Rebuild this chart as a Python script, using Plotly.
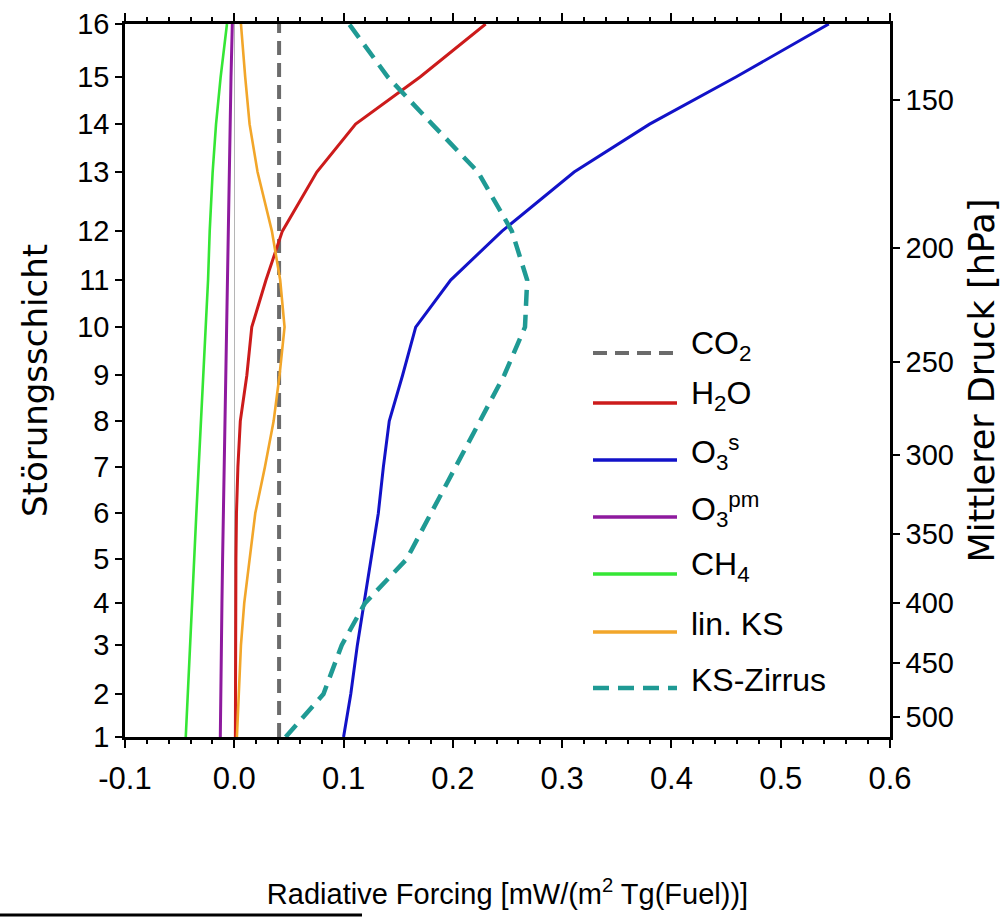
import math
import plotly.graph_objects as go

# ---------------- data ----------------
layers = list(range(1, 17))
pressure_hpa = [519.8, 478.0, 434.5, 400.3, 367.4, 335.9, 307.0, 280.6,
                256.6, 233.6, 213.1, 193.7, 172.6, 157.2, 143.4, 129.3]

co2 = [0.041, 0.041, 0.041, 0.041, 0.041, 0.041, 0.041, 0.041,
       0.041, 0.041, 0.041, 0.041, 0.041, 0.041, 0.041, 0.041]
h2o = [0.001, 0.001, 0.001, 0.0012, 0.0015, 0.002, 0.0033, 0.0055,
       0.0115, 0.016, 0.029, 0.044, 0.0755, 0.111, 0.170, 0.230]
o3s = [0.100, 0.1066, 0.1126, 0.1187, 0.1257, 0.1318, 0.1364, 0.1418,
       0.154, 0.166, 0.198, 0.245, 0.311, 0.380, 0.459, 0.544]
o3pm = [-0.0128, -0.0125, -0.0119, -0.0113, -0.0107, -0.0100, -0.0094, -0.0085,
        -0.0080, -0.0073, -0.0067, -0.0058, -0.0046, -0.0037, -0.0030, -0.0018]
ch4 = [-0.0444, -0.0426, -0.0408, -0.0390, -0.0368, -0.0347, -0.0326, -0.0304,
       -0.0286, -0.0265, -0.0240, -0.0225, -0.0198, -0.0167, -0.0125, -0.0067]
lin_ks = [0.0024, 0.0040, 0.0061, 0.0091, 0.0140, 0.0192, 0.0280, 0.0360,
          0.0414, 0.0460, 0.0420, 0.0344, 0.0213, 0.0140, 0.0100, 0.0061]
ks_zirrus = [0.047, 0.0816, 0.0983, 0.1196, 0.1577, 0.180, 0.2015, 0.224,
             0.247, 0.266, 0.268, 0.254, 0.223, 0.181, 0.1405, 0.105]

x_ticks = [-0.1, 0.0, 0.1, 0.2, 0.3, 0.4, 0.5, 0.6]
x_ticktext = ["-0.1", "0.0", "0.1", "0.2", "0.3", "0.4", "0.5", "0.6"]
p_ticks = [150, 200, 250, 300, 350, 400, 450, 500]

series = [
    ("CO<sub>2</sub>", co2, "#6b6b6b", 4, "14px,8px"),
    ("H<sub>2</sub>O", h2o, "#cc1b1b", 3, "solid"),
    ("O<sub>3</sub><sup>s</sup>", o3s, "#1212c8", 3, "solid"),
    ("O<sub>3</sub><sup>pm</sup>", o3pm, "#8e1a9e", 3, "solid"),
    ("CH<sub>4</sub>", ch4, "#35e635", 2.6, "solid"),
    ("lin. KS", lin_ks, "#f2a62a", 2.6, "solid"),
    ("KS-Zirrus", ks_zirrus, "#1f9a94", 4.5, "16px,9px"),
]

NARROW = "Liberation Sans, Arial, sans-serif"
WIDE = "DejaVu Sans, Liberation Sans, sans-serif"

fig = go.Figure()
for name, vals, color, width, dash in series:
    fig.add_trace(go.Scatter(x=vals, y=pressure_hpa, mode="lines", name=name,
                             line=dict(color=color, width=width, dash=dash),
                             showlegend=False))
# trace that activates the right-hand pressure axis
fig.add_trace(go.Scatter(x=[co2[0]], y=[pressure_hpa[0]], yaxis="y2", mode="markers",
                         marker=dict(opacity=0), showlegend=False, hoverinfo="skip"))

yr = [math.log10(pressure_hpa[0]), math.log10(pressure_hpa[-1])]

fig.update_layout(
    width=1002, height=920,
    margin=dict(l=125, r=112, t=24, b=183),
    paper_bgcolor="white", plot_bgcolor="white",
    font=dict(family=NARROW, color="black", size=29),
    xaxis=dict(
        range=[-0.1, 0.6], tickvals=x_ticks, ticktext=x_ticktext, automargin=False,
        ticks="outside", ticklen=8, tickwidth=2, tickcolor="black",
        minor=dict(dtick=0.02, ticks="outside", ticklen=4, tickwidth=1.5, tickcolor="black"),
        showline=True, linewidth=2.5, linecolor="black", mirror="ticks",
        showgrid=False, zeroline=True, zerolinecolor="#b5b5b5", zerolinewidth=1,
        tickfont=dict(family=NARROW, size=31), ticklabelstandoff=4,
        title=dict(text="Radiative Forcing [mW/(m<sup>2</sup> Tg(Fuel))]",
                   font=dict(family=NARROW, size=29), standoff=89),
    ),
    yaxis=dict(
        type="log", range=yr, tickvals=pressure_hpa, ticktext=[str(l) for l in layers],
        automargin=False,
        ticks="outside", ticklen=7, tickwidth=2, tickcolor="black",
        showline=True, linewidth=2.5, linecolor="black",
        showgrid=False, zeroline=False,
        tickfont=dict(family=NARROW, size=29),
        title=dict(text="Störungsschicht", font=dict(family=WIDE, size=34), standoff=20),
    ),
    yaxis2=dict(
        type="log", range=yr, overlaying="y", side="right", automargin=False,
        tickvals=p_ticks, ticktext=[str(p) for p in p_ticks],
        ticks="outside", ticklen=7, tickwidth=2, tickcolor="black",
        showline=True, linewidth=2.5, linecolor="black",
        showgrid=False, zeroline=False,
        tickfont=dict(family=NARROW, size=29),
        title=dict(text="Mittlerer Druck [hPa]", font=dict(family=WIDE, size=35), standoff=23),
    ),
)

# manual legend (paper coordinates)
plot_l, plot_r, plot_t, plot_b = 125, 890, 24, 737
def px(x):
    return (x - plot_l) / (plot_r - plot_l)
def py(y):
    return (plot_b - y) / (plot_b - plot_t)

legend_y = [353, 403, 460, 517, 574, 632, 688]
for (name, vals, color, width, dash), yy in zip(series, legend_y):
    fig.add_shape(type="line", xref="paper", yref="paper",
                  x0=px(593), x1=px(677), y0=py(yy), y1=py(yy),
                  line=dict(color=color, width=max(width, 3.5), dash=dash))
    fig.add_annotation(xref="paper", yref="paper", x=px(689), y=py(yy - 8),
                       xanchor="left", yanchor="middle", showarrow=False,
                       text=name, font=dict(family=NARROW, size=32, color="black"))

# stray black rule at the bottom-left of the original image
fig.add_shape(type="line", xref="paper", yref="paper",
              x0=px(0), x1=px(362), y0=py(915), y1=py(915),
              line=dict(color="black", width=3))

fig.write_html("out.html")
